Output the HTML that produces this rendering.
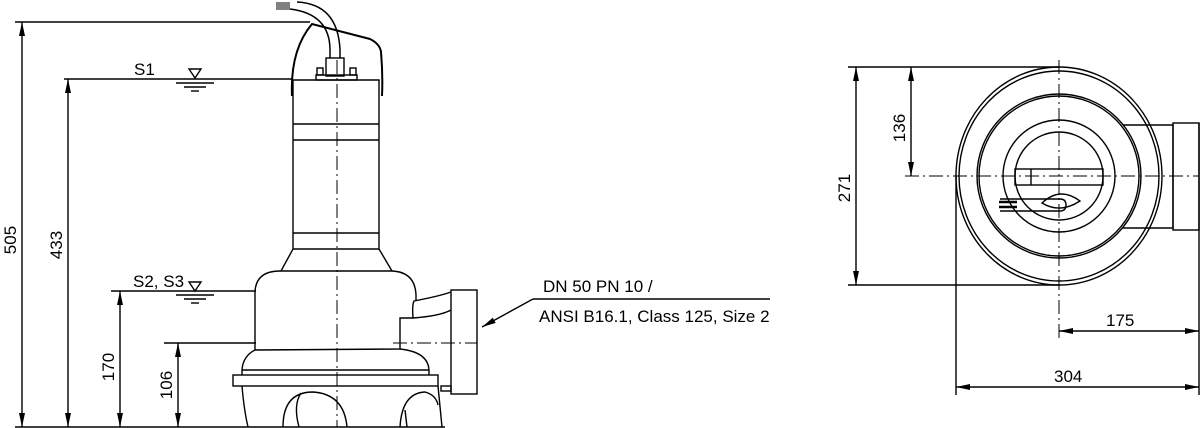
<!DOCTYPE html>
<html><head><meta charset="utf-8"><style>
html,body{margin:0;padding:0;background:#fff;}
svg{display:block;font-family:"Liberation Sans","DejaVu Sans",sans-serif;}
</style></head><body>
<svg width="1200" height="428" viewBox="0 0 1200 428" xmlns="http://www.w3.org/2000/svg">
<defs>
<marker id="a" viewBox="0 0 14 6" refX="14" refY="3" markerWidth="14" markerHeight="6" markerUnits="userSpaceOnUse" orient="auto-start-reverse"><path d="M0,0 L14,3 L0,6 Z" fill="#000"/></marker>
</defs>
<g stroke="#000" stroke-width="1.4" fill="none">
<line x1="15" y1="22" x2="310" y2="22"/>
<line x1="64" y1="79" x2="293" y2="79"/>
<line x1="111" y1="291" x2="256" y2="291"/>
<line x1="164" y1="343" x2="256" y2="343"/>
<line x1="15" y1="427" x2="445" y2="427"/>
<line x1="22" y1="22" x2="22" y2="427" marker-start="url(#a)" marker-end="url(#a)"/>
<line x1="68" y1="79" x2="68" y2="427" marker-start="url(#a)" marker-end="url(#a)"/>
<line x1="120" y1="291" x2="120" y2="427" marker-start="url(#a)" marker-end="url(#a)"/>
<line x1="178" y1="343" x2="178" y2="427" marker-start="url(#a)" marker-end="url(#a)"/>
<path d="M189,69 L201,69 L195,78 Z"/>
<line x1="176" y1="83" x2="214" y2="83"/><line x1="184" y1="87" x2="206" y2="87"/><line x1="191" y1="91" x2="199" y2="91"/>
<path d="M189,282 L201,282 L195,291 Z"/>
<line x1="176" y1="295" x2="214" y2="295"/><line x1="184" y1="299" x2="206" y2="299"/><line x1="191" y1="303" x2="199" y2="303"/>
<path d="M292,96 Q290,50 312,24 L370,39 Q380,44 381,52 Q383,75 382,96" stroke-width="2"/>
<path d="M330,58 L330,50 Q330,14 290,9" stroke-width="1.5"/>
<path d="M340,58 L340,50 Q338,4 297,2" stroke-width="1.5"/>
<g stroke-width="1"><line x1="276" y1="3" x2="290" y2="3"/><line x1="276" y1="5" x2="290" y2="5"/><line x1="276" y1="7" x2="290" y2="7"/><line x1="276" y1="9" x2="290" y2="9"/></g>
<rect x="326" y="58" width="18" height="18"/>
<rect x="316" y="75" width="41" height="5"/>
<rect x="317" y="68" width="6" height="7"/><rect x="350" y="68" width="6" height="7"/>
<path d="M293,80 L379,80 L379,249 L392,271 M293,80 L293,249 L281,271"/>
<line x1="293" y1="124" x2="379" y2="124"/><line x1="293" y1="140" x2="379" y2="140"/>
<line x1="293" y1="233" x2="379" y2="233"/><line x1="293" y1="249" x2="379" y2="249"/>
<path d="M255,350 L255,292 Q256,271 280,271 L392,271 Q415,272 416,295 L416,300"/>
<path d="M255,350 L400,349 L400,318 L413,318 Q412,305 414,301 Q440,296 451,292"/>
<path d="M413,318 Q440,316 451,310"/>
<path d="M400,349 Q428,352 429,370 L429,375"/>
<path d="M255,350 Q243,356 242,370 L242,375"/>
<line x1="242" y1="370" x2="429" y2="370"/>
<rect x="233" y="375" width="205" height="11"/>
<rect x="451" y="290" width="26" height="104"/>
<rect x="441" y="386" width="10" height="5"/>
<path d="M242,386 Q244,410 248,427 M438,386 L442,427"/>
<path d="M283,427 Q283,392 313,392 Q344,394 347,427 M301,393 Q293,405 299,427"/>
<path d="M400,427 Q402,393 425,392 Q436,395 438,405 M405,410 L407,427"/>
<line x1="337" y1="60" x2="337" y2="427" stroke-width="1" stroke-dasharray="14,4,2,4"/>
<line x1="393" y1="343" x2="477" y2="343" stroke-width="1" stroke-dasharray="14,4,2,4"/>
<line x1="533" y1="299" x2="770" y2="299"/>
<line x1="533" y1="299" x2="482" y2="327" marker-end="url(#a)"/>
<line x1="848" y1="67" x2="1059" y2="67"/>
<line x1="848" y1="285" x2="1059" y2="285"/>
<line x1="905" y1="176" x2="1199" y2="176" stroke-width="1" stroke-dasharray="14,4,2,4"/>
<line x1="1059" y1="60" x2="1059" y2="340" stroke-width="1" stroke-dasharray="14,4,2,4"/>
<line x1="856" y1="67" x2="856" y2="285" marker-start="url(#a)" marker-end="url(#a)"/>
<line x1="911" y1="67" x2="911" y2="176" marker-start="url(#a)" marker-end="url(#a)"/>
<line x1="956" y1="176" x2="956" y2="395"/>
<line x1="1199" y1="123" x2="1199" y2="395"/>
<line x1="1059" y1="331" x2="1199" y2="331" marker-start="url(#a)" marker-end="url(#a)"/>
<line x1="956" y1="387" x2="1199" y2="387" marker-start="url(#a)" marker-end="url(#a)"/>
<ellipse cx="1059" cy="176" rx="103" ry="109"/>
<ellipse cx="1059" cy="176" rx="100" ry="105"/>
<circle cx="1059" cy="176" r="82"/>
<circle cx="1059" cy="176" r="80"/>
<circle cx="1059" cy="176" r="56"/>
<circle cx="1059" cy="176" r="44"/>
<path d="M1123,125 L1173,125 L1173,228 L1123,228"/>
<rect x="1173" y="123" width="26" height="107"/>
<rect x="1015" y="169" width="88" height="16"/>
<line x1="1031" y1="169" x2="1031" y2="185"/>
<path d="M1042,203 Q1060,186 1080,201 Q1060,214 1042,203 Z"/>
<path d="M1000,199 L1060,199 Q1066,199 1066,205 Q1066,211 1060,211 L1000,211"/>
<line x1="999" y1="202" x2="1017" y2="202" stroke-width="2.5"/>
<line x1="999" y1="207" x2="1017" y2="207" stroke-width="2.5"/>
</g>
<g fill="#000" font-size="17">
<text x="134" y="75">S1</text>
<text x="133" y="287">S2, S3</text>
<text x="543" y="292">DN 50 PN 10 /</text>
<text x="539" y="322">ANSI B16.1, Class 125, Size 2</text>
<text x="1106" y="326">175</text>
<text x="1054" y="382">304</text>
<text transform="translate(16,240) rotate(-90)" text-anchor="middle">505</text>
<text transform="translate(62,245) rotate(-90)" text-anchor="middle">433</text>
<text transform="translate(114,367) rotate(-90)" text-anchor="middle">170</text>
<text transform="translate(172,385) rotate(-90)" text-anchor="middle">106</text>
<text transform="translate(850,188) rotate(-90)" text-anchor="middle">271</text>
<text transform="translate(905,128) rotate(-90)" text-anchor="middle">136</text>
</g>
</svg>
</body></html>
